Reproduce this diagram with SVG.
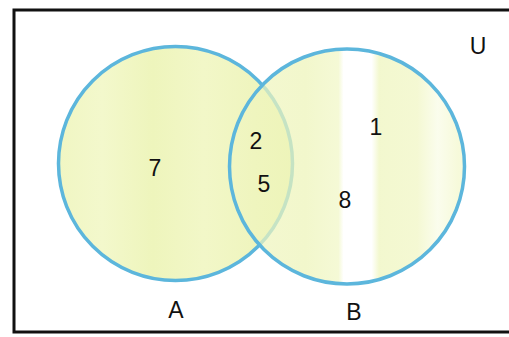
<svg xmlns="http://www.w3.org/2000/svg" width="509" height="337" viewBox="0 0 509 337">
<defs>
<linearGradient id="stripes" gradientUnits="userSpaceOnUse" x1="0" y1="0" x2="509" y2="0">
<stop offset="0.11" stop-color="#f0f6c2"/>
<stop offset="0.2" stop-color="#f3f8cc"/>
<stop offset="0.3" stop-color="#eef5bc"/>
<stop offset="0.4" stop-color="#f2f7c8"/>
<stop offset="0.5" stop-color="#eff5be"/>
<stop offset="0.6" stop-color="#edf4b8"/>
<stop offset="0.665" stop-color="#f1f7c6"/>
<stop offset="0.675" stop-color="#ffffff"/>
<stop offset="0.73" stop-color="#ffffff"/>
<stop offset="0.745" stop-color="#eef5bc"/>
<stop offset="0.82" stop-color="#f0f6c2"/>
<stop offset="0.86" stop-color="#f9fce6"/>
<stop offset="0.9" stop-color="#f3f8cc"/>
</linearGradient>
</defs>
<style>
.ring{stroke:#5cb6dc;stroke-width:3.5}
.num{font-family:"Liberation Sans",Arial,sans-serif;font-size:23px;fill:#111;text-anchor:middle}
</style>
<rect x="14" y="10" width="520" height="322" fill="#ffffff" stroke="#111" stroke-width="3"/>
<g id="setA">
<circle cx="175.5" cy="163.5" r="117" fill="url(#stripes)" class="ring"/>
</g>
<g id="setB">
<circle cx="347" cy="166.5" r="117.5" fill="url(#stripes)" fill-opacity="0.72" stroke="none"/>
<circle cx="347" cy="166.5" r="117.5" fill="none" class="ring"/>
</g>
<g id="labels">
<text class="num" x="155" y="176">7</text>
<text class="num" x="256" y="149">2</text>
<text class="num" x="264" y="192">5</text>
<text class="num" x="376" y="135">1</text>
<text class="num" x="345" y="208">8</text>
<text class="num" x="478" y="54">U</text>
<text class="num" x="176" y="318">A</text>
<text class="num" x="354" y="320">B</text>
</g>
</svg>
